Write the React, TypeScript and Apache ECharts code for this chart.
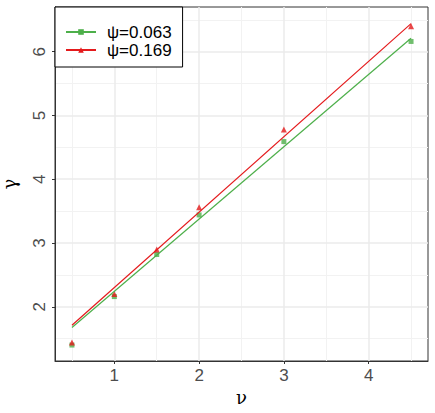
import React, { useEffect, useRef } from 'react';
import * as echarts from 'echarts';

const nuValues = [0.5, 1, 1.5, 2, 3, 4.5];
const gammaPsi063 = [1.4, 2.16, 2.82, 3.44, 4.59, 6.16];
const gammaPsi169 = [1.44, 2.2, 2.9, 3.56, 4.78, 6.4];
const fitNu = [0.5, 4.5];
const fitPsi063 = [1.675, 6.21];
const fitPsi169 = [1.71, 6.44];
const seriesNames = ['ψ=0.063', 'ψ=0.169'];
const xMajorTicks = [1, 2, 3, 4];
const xMinorTicks = [0.5, 1.5, 2.5, 3.5, 4.5];
const yMajorTicks = [2, 3, 4, 5, 6];
const yMinorTicks = [1.5, 2.5, 3.5, 4.5, 5.5, 6.5];

const GREEN = '#4DAF4A';
const RED = '#E41A1C';
const X_MIN = 0.3, X_MAX = 4.7, Y_MIN = 1.15, Y_MAX = 6.7;

export default function App() {
  const ref = useRef<HTMLDivElement>(null);
  useEffect(() => {
    if (!ref.current) return;
    const chart = echarts.init(ref.current, undefined, { renderer: 'svg' });
    const zip = (xs: number[], ys: number[]) => xs.map((x, i) => [x, ys[i]]);
    const tickLabel = { color: '#4d4d4d', fontSize: 17, fontFamily: 'Liberation Sans, Arial, sans-serif' };
    chart.setOption({
      animation: false,
      grid: {
        left: 55, right: 7, top: 7, bottom: 52, show: true,
        borderColor: '#333333', borderWidth: 1, backgroundColor: 'transparent',
        containLabel: false, outerBoundsMode: 'none',
      },
      legend: {
        left: 55, top: 7, orient: 'vertical',
        backgroundColor: '#ffffff', borderColor: '#000000', borderWidth: 1,
        padding: [16, 11, 8, 10], itemGap: 0, itemWidth: 30, itemHeight: 7,
        textStyle: { color: '#000000', fontSize: 17, lineHeight: 18, fontFamily: 'Liberation Sans, Arial, sans-serif', padding: [0, 0, 0, 6] },
        data: seriesNames,
      },
      xAxis: [
        {
          type: 'value', min: X_MIN, max: X_MAX,
          name: 'ν', nameLocation: 'middle', nameGap: 26,
          nameTextStyle: { fontSize: 18, color: '#000', fontFamily: 'DejaVu Serif, serif' },
          axisLine: { show: true, lineStyle: { color: '#333333', width: 1 } },
          axisTick: { show: true, length: 3, customValues: xMajorTicks, lineStyle: { color: '#333333' } },
          axisLabel: { ...tickLabel, margin: 6, customValues: xMajorTicks, formatter: (v: number) => String(v) },
          splitLine: { show: true, lineStyle: { color: '#ebebeb', width: 1.5 } },
          z: 2,
        },
        {
          type: 'value', min: X_MIN, max: X_MAX, position: 'bottom',
          axisLine: { show: false }, axisTick: { show: false, customValues: xMinorTicks },
          axisLabel: { show: false, customValues: xMinorTicks },
          splitLine: { show: true, lineStyle: { color: '#f2f2f2', width: 1 } },
          z: 1,
        },
      ],
      yAxis: [
        {
          type: 'value', min: Y_MIN, max: Y_MAX,
          name: 'γ', nameLocation: 'middle', nameGap: 37, nameRotate: 90,
          nameTextStyle: { fontSize: 18, color: '#000', fontFamily: 'DejaVu Serif, serif' },
          axisLine: { show: true, lineStyle: { color: '#333333', width: 1 } },
          axisTick: { show: true, length: 3, customValues: yMajorTicks, lineStyle: { color: '#333333' } },
          axisLabel: { ...tickLabel, margin: 7, rotate: 90, customValues: yMajorTicks, formatter: (v: number) => String(v) },
          splitLine: { show: true, lineStyle: { color: '#ebebeb', width: 1.5 } },
          z: 2,
        },
        {
          type: 'value', min: Y_MIN, max: Y_MAX, position: 'left',
          axisLine: { show: false }, axisTick: { show: false, customValues: yMinorTicks },
          axisLabel: { show: false, customValues: yMinorTicks },
          splitLine: { show: true, lineStyle: { color: '#f2f2f2', width: 1 } },
          z: 1,
        },
      ],
      series: [
        {
          name: seriesNames[0], type: 'line', data: zip(fitNu, fitPsi063),
          symbol: 'rect', symbolSize: 5, showSymbol: false,
          lineStyle: { color: GREEN, width: 1.2 }, itemStyle: { color: GREEN },
        },
        {
          name: seriesNames[1], type: 'line', data: zip(fitNu, fitPsi169),
          symbol: 'triangle', symbolSize: 6, showSymbol: false,
          lineStyle: { color: RED, width: 1.2 }, itemStyle: { color: RED },
        },
        {
          name: seriesNames[0], type: 'scatter', data: zip(nuValues, gammaPsi063),
          symbol: 'rect', symbolSize: 5, itemStyle: { color: GREEN },
        },
        {
          name: seriesNames[1], type: 'scatter', data: zip(nuValues, gammaPsi169),
          symbol: 'triangle', symbolSize: 6, itemStyle: { color: RED },
        },
      ],
    });
    return () => chart.dispose();
  }, []);
  return <div ref={ref} style={{ position: 'absolute', left: 0, top: 0, width: 435, height: 413 }} />;
}
